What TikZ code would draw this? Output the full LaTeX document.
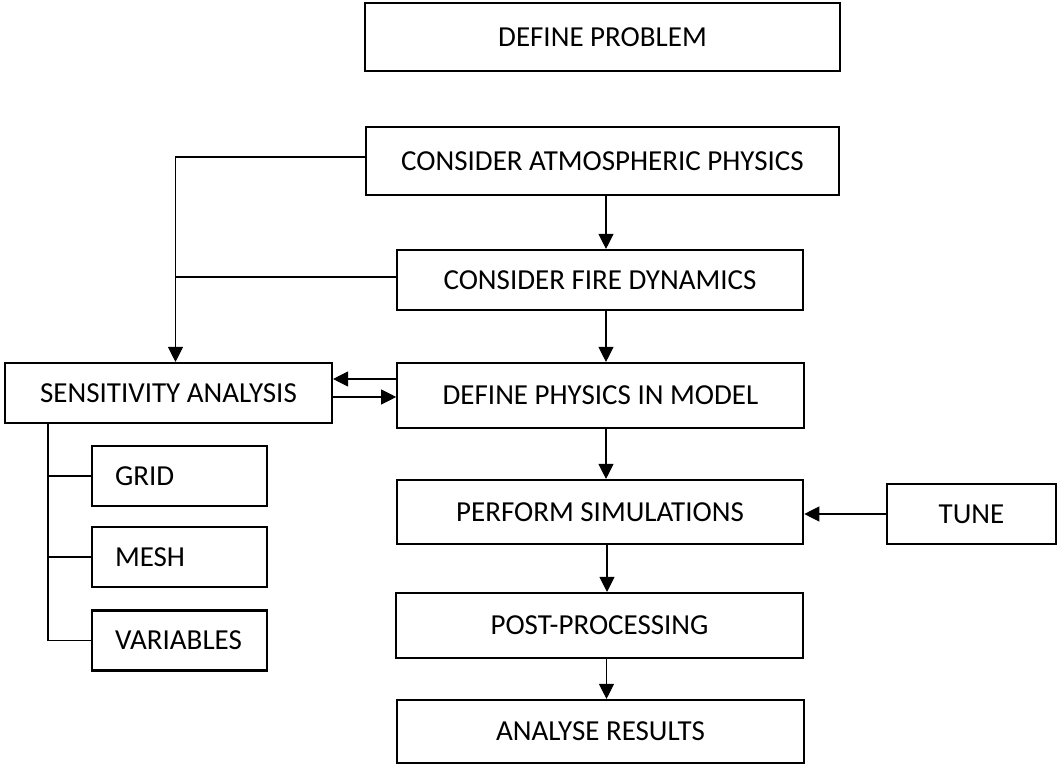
\documentclass[tikz,border=0pt]{standalone}
\usepackage{fontspec}
\setmainfont{Carlito}
\usetikzlibrary{arrows.meta}
\tikzset{
  box/.style={draw, line width=1.2pt, minimum height=1.2cm,
    font=\fontsize{16.5}{20}\selectfont},
  wide/.style={box, minimum width=8.13cm},
  leaf/.style={box, text width=2.58cm, inner xsep=0.46cm, align=left},
  link/.style={line width=0.6pt},
  arr/.style={link, -{Triangle[length=0.3cm,width=0.3cm]}}
}
\begin{document}
\begin{tikzpicture}
  \useasboundingbox (0,0) rectangle (21.16,-15.28);
  \node[box, minimum width=9.5cm, minimum height=1.36cm] (prob) at (12.05,-0.74) {DEFINE PROBLEM};
  \node[box, minimum width=9.46cm, minimum height=1.36cm] (atmos) at (12.05,-3.22) {CONSIDER ATMOSPHERIC PHYSICS};
  \node[wide] (fire) at (12.0,-5.6) {CONSIDER FIRE DYNAMICS};
  \node[wide, minimum height=1.3cm] (phys) at (12.01,-7.91) {DEFINE PHYSICS IN MODEL};
  \node[wide, minimum height=1.28cm] (perf) at (12.0,-10.24) {PERFORM SIMULATIONS};
  \node[wide, minimum height=1.3cm] (post) at (11.99,-12.51) {POST-PROCESSING};
  \node[wide, minimum height=1.26cm] (res) at (12.01,-14.63) {ANALYSE RESULTS};
  \node[box, minimum width=3.38cm] (tune) at (19.43,-10.28) {TUNE};
  \node[box, minimum width=6.54cm] (sens) at (3.37,-7.86) {SENSITIVITY ANALYSIS};
  \node[leaf] (grid) at (3.59,-9.52) {GRID};
  \node[leaf] (mesh) at (3.59,-11.14) {MESH};
  \node[leaf] (vars) at (3.59,-12.81) {VARIABLES};

  \coordinate (bus) at (3.51,0);
  \coordinate (trunk) at (0.96,0);

  \draw[arr] ([xshift=0.07cm]atmos.south) -- ([xshift=0.07cm]atmos.south |- fire.north);
  \draw[arr] ([xshift=0.12cm]fire.south) -- ([xshift=0.12cm]fire.south |- phys.north);
  \draw[arr] ([xshift=0.11cm]phys.south) -- ([xshift=0.11cm]phys.south |- perf.north);
  \draw[arr] ([xshift=0.14cm]perf.south) -- ([xshift=0.14cm]perf.south |- post.north);
  \draw[arr] ([xshift=0.14cm]post.south) -- ([xshift=0.14cm]post.south |- res.north);
  \draw[arr] (tune.west) -- (tune.west -| perf.east);

  \draw[arr] ([yshift=0.08cm]atmos.west) -| (bus |- sens.north);
  \draw[link] ([yshift=0.06cm]fire.west) -- ([yshift=0.06cm]fire.west -| bus);
  \draw[arr] ([yshift=0.33cm]phys.west) -- ([yshift=0.33cm]phys.west -| sens.east);
  \draw[arr] ([yshift=-0.03cm]sens.east |- phys.west) -- ([yshift=-0.03cm]phys.west);

  \draw[link] (trunk |- sens.south) -- (trunk |- vars.west);
  \foreach \n in {grid,mesh,vars}
    \draw[link] (trunk |- \n.west) -- (\n.west);
\end{tikzpicture}
\end{document}
